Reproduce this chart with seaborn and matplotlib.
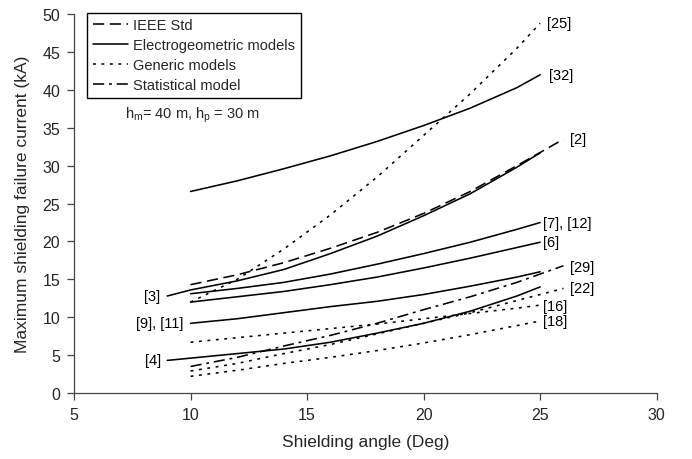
import numpy as np
import pandas as pd
import seaborn as sns
import matplotlib
matplotlib.use("Agg")
import matplotlib.pyplot as plt

# ---- data ----
ieee_x = [10, 12, 14, 16, 18, 20, 22, 24, 26]
ieee_2 = [14.3, 15.6, 17.2, 19.1, 21.2, 23.7, 26.6, 30.0, 33.5]

egm_x32 = [10, 12, 14, 16, 18, 20, 22, 24, 25]
egm_32 = [26.6, 28.0, 29.6, 31.3, 33.2, 35.3, 37.6, 40.3, 42.0]

egm_x3 = [9, 10, 12, 14, 16, 18, 20, 22, 24, 25]
egm_3 = [12.8, 13.6, 14.8, 16.3, 18.4, 20.7, 23.4, 26.3, 29.8, 31.7]

egm_x = [10, 12, 14, 16, 18, 20, 22, 24, 25]
egm_7_12 = [13.1, 13.8, 14.6, 15.7, 17.0, 18.4, 19.9, 21.6, 22.5]
egm_6 = [12.0, 12.7, 13.4, 14.3, 15.3, 16.5, 17.8, 19.2, 19.9]
egm_9_11 = [9.2, 9.8, 10.6, 11.4, 12.1, 13.0, 14.1, 15.3, 16.0]

egm_x4 = [9, 10, 12, 14, 16, 18, 20, 22, 24, 25]
egm_4 = [4.3, 4.6, 5.2, 5.8, 6.7, 7.9, 9.2, 10.8, 12.8, 14.0]

gen_x = [10, 12, 14, 16, 18, 20, 22, 24, 25]
gen_25 = [12.0, 15.0, 19.0, 23.5, 28.5, 34.0, 39.5, 45.5, 48.8]
gen_16 = [6.7, 7.3, 7.9, 8.5, 9.1, 9.8, 10.5, 11.2, 11.6]
gen_18 = [2.2, 3.0, 3.9, 4.7, 5.6, 6.6, 7.7, 8.9, 9.5]
gen_x22 = [10, 12, 14, 16, 18, 20, 22, 24, 26]
gen_22 = [2.9, 3.9, 5.2, 6.4, 7.8, 9.2, 10.6, 12.2, 13.8]

stat_x = [10, 12, 14, 16, 18, 20, 22, 24, 26]
stat_29 = [3.5, 4.7, 6.2, 7.6, 9.2, 11.0, 12.7, 14.6, 16.8]

model_names = ["IEEE Std", "Electrogeometric models", "Generic models", "Statistical model"]

series = [
    ("[2]", "IEEE Std", ieee_x, ieee_2),
    ("[32]", "Electrogeometric models", egm_x32, egm_32),
    ("[3]", "Electrogeometric models", egm_x3, egm_3),
    ("[7],[12]", "Electrogeometric models", egm_x, egm_7_12),
    ("[6]", "Electrogeometric models", egm_x, egm_6),
    ("[9],[11]", "Electrogeometric models", egm_x, egm_9_11),
    ("[4]", "Electrogeometric models", egm_x4, egm_4),
    ("[25]", "Generic models", gen_x, gen_25),
    ("[16]", "Generic models", gen_x, gen_16),
    ("[18]", "Generic models", gen_x, gen_18),
    ("[22]", "Generic models", gen_x22, gen_22),
    ("[29]", "Statistical model", stat_x, stat_29),
]

rows = []
for name, model, xs, ys in series:
    for xv, yv in zip(xs, ys):
        rows.append({"angle": xv, "current": yv, "series": name, "model": model})
df = pd.DataFrame(rows)

# curve labels: text, x, y, ha
curve_labels = [
    ("[25]", 25.3, 48.8, "left"),
    ("[32]", 25.4, 42.0, "left"),
    ("[2]", 26.3, 33.5, "left"),
    ("[7], [12]", 25.1, 22.5, "left"),
    ("[6]", 25.1, 19.9, "left"),
    ("[29]", 26.3, 16.6, "left"),
    ("[22]", 26.3, 13.8, "left"),
    ("[16]", 25.1, 11.5, "left"),
    ("[18]", 25.1, 9.5, "left"),
    ("[3]", 8.7, 12.8, "right"),
    ("[9], [11]", 9.7, 9.2, "right"),
    ("[4]", 8.75, 4.3, "right"),
]

# ---- style ----
sns.set_theme(style="ticks")
plt.rcParams["font.family"] = ["Liberation Sans", "DejaVu Sans"]
plt.rcParams["mathtext.fontset"] = "custom"
plt.rcParams["mathtext.rm"] = "Liberation Sans"
plt.rcParams["mathtext.it"] = "Liberation Sans"
plt.rcParams["mathtext.default"] = "regular"

fig = plt.figure(figsize=(6.92, 4.6), dpi=100)
ax = fig.add_axes([0.107, 0.1435, 0.842, 0.8235])

dashes = {
    "IEEE Std": (7, 3.5),
    "Electrogeometric models": "",
    "Generic models": (1.8, 3.5),
    "Statistical model": (7, 3, 1.8, 3),
}

sns.lineplot(data=df, x="angle", y="current", style="model", style_order=model_names,
             dashes=dashes, units="series", estimator=None, color="black",
             linewidth=1.15, sort=False, ax=ax)

handles, labels = ax.get_legend_handles_labels()
hl = [(h, l) for h, l in zip(handles, labels) if l in model_names]
leg = ax.legend([h for h, _ in hl], [l for _, l in hl], loc="upper left",
                bbox_to_anchor=(0.022, 1.004), borderaxespad=0, fontsize=10.5,
                frameon=True, fancybox=False, edgecolor="black", framealpha=1,
                handlelength=2.4, handletextpad=0.35, borderpad=0.4,
                labelspacing=0.4)
leg.get_frame().set_linewidth(1.0)

for txt, xv, yv, ha in curve_labels:
    ax.text(xv, yv, txt, ha=ha, va="center", fontsize=10.5, color="black")

ax.text(7.2, 36.8, r"h$_{m}$= 40 m, h$_{p}$ = 30 m", fontsize=10.5, ha="left", va="center")

ax.set_xlim(5, 30)
ax.set_ylim(0, 50)
ax.set_xticks([5, 10, 15, 20, 25, 30])
ax.set_yticks(range(0, 51, 5))
ax.tick_params(axis="both", labelsize=11.5, length=5, width=0.9, color="#444444", pad=5)
ax.set_xlabel("Shielding angle (Deg)", fontsize=12.5, labelpad=9)
ax.set_ylabel("Maximum shielding failure current (kA)", fontsize=12.5, labelpad=9)
for s in ["top", "right"]:
    ax.spines[s].set_visible(False)
for s in ["left", "bottom"]:
    ax.spines[s].set_color("#444444")
    ax.spines[s].set_linewidth(0.9)

fig.savefig("out.png", dpi=100)
